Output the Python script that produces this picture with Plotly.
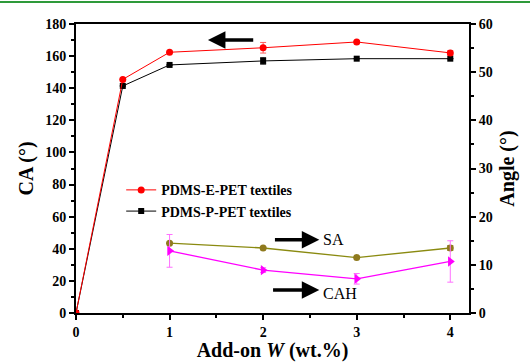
import plotly.graph_objects as go

x_ca = [0, 0.5, 1, 2, 3, 4]
ca_e = [0, 145.5, 162.4, 165.2, 168.8, 162.0]
ca_e_err = [0, 0, 0, 3.3, 0, 1.5]
ca_p = [0, 141.4, 154.5, 157.0, 158.4, 158.4]
ca_p_err = [0, 0, 0, 2.0, 0, 0]

x_ang = [1, 2, 3, 4]
sa = [14.5, 13.5, 11.5, 13.5]
sa_err = [0, 0, 0, 0.5]
cah = [12.9, 8.9, 7.1, 10.7]
cah_err = [3.4, 0.5, 1.1, 4.3]

FONT = "Times New Roman, Liberation Serif, serif"
fig = go.Figure()

fig.add_trace(go.Scatter(x=x_ca, y=ca_p, mode="lines+markers", name="<b>PDMS-P-PET textiles</b>",
                         line=dict(color="black", width=1),
                         marker=dict(symbol="square", size=6, color="black"),
                         error_y=dict(type="data", array=ca_p_err, color="black", thickness=1, width=3)))
fig.add_trace(go.Scatter(x=x_ca, y=ca_e, mode="lines+markers", name="<b>PDMS-E-PET textiles</b>",
                         line=dict(color="red", width=1),
                         marker=dict(symbol="circle", size=7, color="red"),
                         error_y=dict(type="data", array=ca_e_err, color="#ff6060", thickness=1, width=3)))
fig.add_trace(go.Scatter(x=x_ang, y=sa, mode="lines+markers", name="SA", showlegend=False, yaxis="y2",
                         line=dict(color="#8a8a10", width=1.3),
                         marker=dict(symbol="circle", size=7, color="#8f7a1e"),
                         error_y=dict(type="data", array=sa_err, color="#8f7a1e", thickness=1, width=3)))
fig.add_trace(go.Scatter(x=x_ang, y=cah, mode="lines+markers", name="CAH", showlegend=False, yaxis="y2",
                         line=dict(color="#ff00ff", width=1.3),
                         marker=dict(symbol="triangle-right", size=9, color="#ff00ff"),
                         error_y=dict(type="data", array=cah_err, color="#ff70ff", thickness=1, width=3)))

tickfont = dict(family=FONT, size=14, color="black")
titlefont = dict(family=FONT, size=20, color="black")

fig.update_layout(
    width=530, height=362,
    margin=dict(l=76, r=61, t=24, b=49),
    paper_bgcolor="white", plot_bgcolor="white",
    font=dict(family=FONT, color="black"),
    xaxis=dict(range=[0, 4.2], tickvals=[0, 1, 2, 3, 4], ticktext=["<b>0</b>", "<b>1</b>", "<b>2</b>", "<b>3</b>", "<b>4</b>"],
               ticks="outside", ticklen=5, tickwidth=1.5, tickcolor="black", automargin=False,
               minor=dict(dtick=0.5, ticks="outside", ticklen=3, tickcolor="black"),
               showline=True, linecolor="black", linewidth=2, mirror=True, showgrid=False, zeroline=False,
               tickfont=tickfont,
               title=dict(text="<b>Add-on <i>W</i> (wt.%)</b>", font=titlefont, standoff=2)),
    yaxis=dict(range=[0, 180], dtick=20, tickformat="d", automargin=False,
               ticks="outside", ticklen=5, tickwidth=1.5, tickcolor="black",
               minor=dict(dtick=10, ticks="outside", ticklen=3, tickcolor="black"),
               showline=True, linecolor="black", linewidth=2, showgrid=False, zeroline=False,
               tickfont=tickfont, tickprefix="<b>", ticksuffix="</b>",
               title=dict(text="<b>CA (°)</b>", font=titlefont, standoff=6)),
    yaxis2=dict(range=[0, 60], dtick=10, overlaying="y", side="right", automargin=False,
                ticks="outside", ticklen=5, tickwidth=1.5, tickcolor="black",
                minor=dict(dtick=5, ticks="outside", ticklen=3, tickcolor="black"),
                showline=True, linecolor="black", linewidth=2, showgrid=False, zeroline=False,
                tickfont=tickfont, tickprefix="<b>", ticksuffix="</b>",
                title=dict(text="<b>Angle (°)</b>", font=titlefont, standoff=8)),
    legend=dict(x=0.115, y=0.48, xanchor="left", yanchor="top", bgcolor="rgba(0,0,0,0)",
                font=dict(family=FONT, size=14, color="black"), traceorder="reversed",
                tracegroupgap=0, itemwidth=30),
    showlegend=True,
)

arrow = dict(showarrow=True, arrowhead=2, arrowsize=1.0, arrowwidth=3.5, arrowcolor="black", text="")
fig.add_annotation(x=1.41, y=170, ax=1.91, ay=170, axref="x", ayref="y", xref="x", yref="y", **arrow)
fig.add_annotation(x=2.60, y=15.2, ax=2.11, ay=15.2, axref="x", ayref="y2", xref="x", yref="y2", **arrow)
fig.add_annotation(x=2.60, y=4.8, ax=2.09, ay=4.8, axref="x", ayref="y2", xref="x", yref="y2", **arrow)
fig.add_annotation(x=2.62, y=15.2, xref="x", yref="y2", text="SA", showarrow=False, xanchor="left",
                   font=dict(family=FONT, size=16, color="black"))
fig.add_annotation(x=2.62, y=4.0, xref="x", yref="y2", text="CAH", showarrow=False, xanchor="left",
                   font=dict(family=FONT, size=16, color="black"))

fig.add_shape(type="line", xref="paper", yref="paper", x0=-0.3, x1=1.3, y0=1.076, y1=1.076,
              line=dict(color="#2e9a3a", width=2))

fig.write_html("out.html")
